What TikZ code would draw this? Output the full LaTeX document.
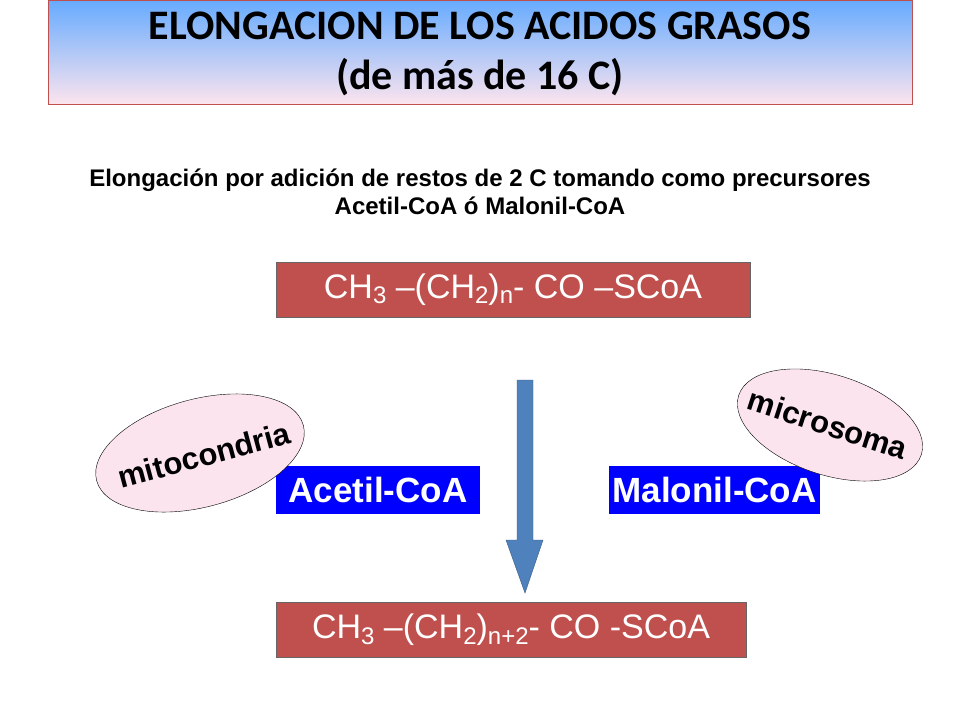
\documentclass[tikz,border=0pt]{standalone}
\usepackage{fontspec}
\setmainfont{Liberation Sans}
\newfontfamily\titlefont{Carlito}
\usetikzlibrary{shapes.geometric}
\definecolor{boxred}{RGB}{192,80,77}
\definecolor{arrowblue}{RGB}{79,129,189}
\definecolor{pinkfill}{RGB}{252,228,238}
\newcommand{\sub}[1]{\raisebox{-0.3ex}{\fontsize{24}{24}\selectfont #1}}
\tikzset{
  chainbox/.style={draw=black!60, fill=boxred, text=white, minimum height=55pt, font=\fontsize{34}{40}\selectfont},
  sourcebox/.style={fill=blue, text=white, minimum height=48pt, font=\bfseries\fontsize{35}{40}\selectfont, inner sep=0pt},
  organelle/.style={draw=black, fill=pinkfill},
  organelletext/.style={font=\bfseries\fontsize{31}{40}\selectfont}
}
\begin{document}
\begin{tikzpicture}[x=1pt, y=-1pt]
\useasboundingbox (0,0) rectangle (960,720);

% title
\shade[top color=blue!55!cyan!60, bottom color=pinkfill, draw=boxred] (48,0) rectangle (912,104);
\node[font=\titlefont\bfseries\fontsize{42}{50}\selectfont, align=center] (title) at (480,54) {ELONGACION DE LOS ACIDOS GRASOS\\(de más de 16 C)};

\node[font=\bfseries\fontsize{24}{28}\selectfont, align=center] (subtitle) at (480,192) {Elongación por adición de restos de 2 C tomando como precursores\\Acetil-CoA ó Malonil-CoA};

% chains
\node[chainbox, minimum width=474pt] (top) at (513,289.5) {CH\sub{3} --(CH\sub{2})\sub{n}- CO --SCoA};
\node[chainbox, minimum width=470pt] (bot) at (511,630) {CH\sub{3} --(CH\sub{2})\sub{n+2}- CO -SCoA};

% arrow
\draw[draw=arrowblue!70!black, fill=arrowblue] (517,380) -- (533,380) -- (533,540) -- (543,540) -- (525,593) -- (506,540) -- (517,540) -- cycle;

% sources
\node[sourcebox, minimum width=204pt] (acetil) at (378,490) {Acetil-CoA};
\node[sourcebox, minimum width=211pt] (malonil) at (714.5,490) {Malonil-CoA};

% organelles
\draw[organelle, rotate around={15:(200,453)}] (200,453) ellipse (107 and 54);
\node[organelletext, rotate=15] (mito) at (204,455) {mitocondria};
\draw[organelle, rotate around={-18:(830,425)}] (830,425) ellipse (96 and 50);
\node[organelletext, rotate=-18] (micro) at (828,424) {microsoma};
\end{tikzpicture}
\end{document}
